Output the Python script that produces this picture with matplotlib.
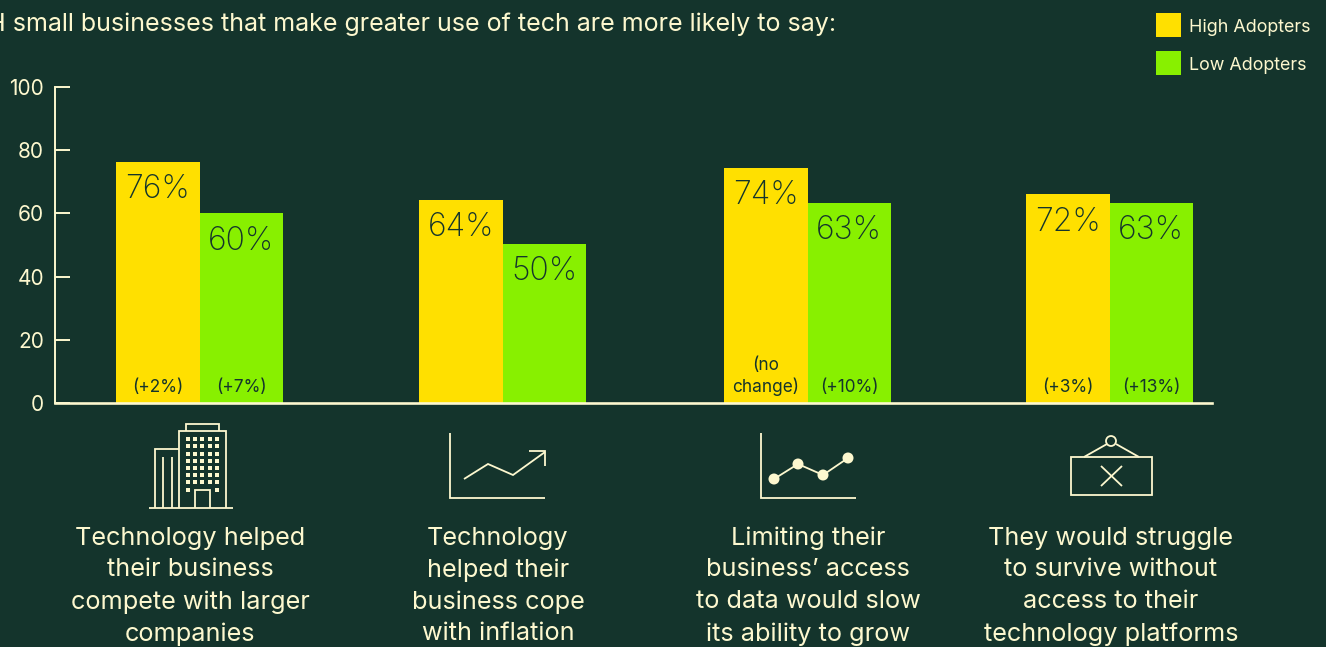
import matplotlib
matplotlib.use('Agg')
import matplotlib.pyplot as plt
from matplotlib.patches import Rectangle, Circle

plt.rcParams['font.family'] = ['Inter', 'DejaVu Sans']

BG = '#14342C'
CREAM = '#FDF8CF'
YELLOW = '#FFE000'
GREEN = '#88F000'

# bar heights as drawn in the source (the 72% bar is drawn shorter than its label)
high_values = [76.2, 64.2, 74.4, 66]
low_values = [60, 50.3, 63.3, 63.3]
high_labels = ['76%', '64%', '74%', '72%']
low_labels = ['60%', '50%', '63%', '63%']
high_changes = ['(+2%)', '', '(no\nchange)', '(+3%)']
low_changes = ['(+7%)', '', '(+10%)', '(+13%)']
y_ticks = [0, 20, 40, 60, 80, 100]
categories = [
    'Technology helped\ntheir business\ncompete with larger\ncompanies',
    'Technology\nhelped their\nbusiness cope\nwith inflation',
    'Limiting their\nbusiness\u2019 access\nto data would slow\nits ability to grow',
    'They would struggle\nto survive without\naccess to their\ntechnology platforms',
]
title = 'H small businesses that make greater use of tech are more likely to say:'

W, H = 1326, 647
fig = plt.figure(figsize=(W / 100, H / 100), dpi=100, facecolor=BG)

# main chart, axes box in pixels: x 55-1212, y 87-403, x axis runs in pixels
ax = fig.add_axes([55 / W, 1 - 403 / H, (1212 - 55) / W, (403 - 87) / H], facecolor='none')
group_x = [199.5, 502.5, 807.5, 1109.5]
bar_w = 83.5
ax.bar([g - bar_w / 2 for g in group_x], high_values, bar_w, color=YELLOW, zorder=2)
ax.bar([g + bar_w / 2 for g in group_x], low_values, bar_w, color=GREEN, zorder=2)
ax.set_xlim(55, 1212)
ax.set_ylim(0, 100)

for s in ['top', 'right']:
    ax.spines[s].set_visible(False)
ax.spines['left'].set_color(CREAM)
ax.spines['left'].set_linewidth(1.4)
ax.spines['bottom'].set_color(CREAM)
ax.spines['bottom'].set_linewidth(1.9)
ax.spines['bottom'].set_zorder(3)
ax.set_xticks([])
ax.set_yticks(y_ticks)
ax.tick_params(axis='y', direction='in', length=11, width=1.4, color=CREAM,
               labelcolor=CREAM, labelsize=15, pad=8)

# value and change labels on the bars
for i, g in enumerate(group_x):
    for off, val, lab, chg in [(-bar_w / 2, high_values[i], high_labels[i], high_changes[i]),
                               (bar_w / 2, low_values[i], low_labels[i], low_changes[i])]:
        ax.annotate(lab, (g + off, val), xytext=(0, -20), textcoords='offset points',
                    ha='center', va='center', fontsize=23, color=BG, fontweight='light', zorder=4)
        if chg:
            ax.annotate(chg, (g + off, 0), xytext=(0, 5), textcoords='offset points',
                        ha='center', va='bottom', fontsize=12.4, color=BG, zorder=4,
                        linespacing=1.25)

# overlay in pixel coordinates for header, legend, icons and captions
ov = fig.add_axes([0, 0, 1, 1], facecolor='none')
ov.set_xlim(0, W)
ov.set_ylim(H, 0)
ov.axis('off')

ov.text(-13, 24, title, fontsize=18.05, color=CREAM, va='center', ha='left')

ov.add_patch(Rectangle((1156, 13), 25, 24, color=YELLOW, lw=0))
ov.add_patch(Rectangle((1156, 51), 25, 24, color=GREEN, lw=0))
ov.text(1189, 27.5, 'High Adopters', fontsize=12.9, color=CREAM, va='center')
ov.text(1189, 65.5, 'Low Adopters', fontsize=12.9, color=CREAM, va='center')

for cx, cat in zip([190, 498, 808, 1111], categories):
    for j, line in enumerate(cat.split('\n')):
        ov.text(cx, 538 + 32 * j, line, fontsize=18.2, color=CREAM, ha='center', va='center')


def seg(xs, ys, lw=1.3):
    ov.plot(xs, ys, color=CREAM, lw=lw, solid_capstyle='butt', solid_joinstyle='miter')


# building icon
seg([149, 233], [508, 508])
seg([179, 179, 226, 226], [508, 431, 431, 508])
seg([186, 186, 219, 219], [431, 424, 424, 431])
seg([155, 155, 179], [508, 449, 449])
seg([163, 163], [457, 508])
seg([172, 172], [457, 508])
seg([195, 195, 210, 210], [508, 490, 490, 508])
for wy in [439, 446, 454, 461, 468, 475, 482]:
    for wx in [188, 195, 202, 210, 217]:
        ov.add_patch(Rectangle((wx - 2, wy - 2), 4, 4, color=CREAM, lw=0))
for wx in [188, 217]:
    ov.add_patch(Rectangle((wx - 2, 488), 4, 4, color=CREAM, lw=0))

# trend arrow icon
seg([450, 450, 545], [433, 498, 498])
seg([464, 488, 513, 545], [479, 464, 475, 452])
seg([529, 545, 545], [451, 451, 466])

# dotted line icon
seg([761, 761, 856], [433, 498, 498])
dot_x = [774, 798, 823, 848]
dot_y = [479, 464, 475, 458]
seg(dot_x, dot_y)
for dx, dy in zip(dot_x, dot_y):
    ov.add_patch(Circle((dx, dy), 5.5, color=CREAM, lw=0))

# closed sign icon
ov.add_patch(Rectangle((1071, 457), 81, 38, fill=False, ec=CREAM, lw=1.3))
ov.add_patch(Circle((1111, 441), 5, fill=False, ec=CREAM, lw=1.3))
seg([1084, 1107], [457, 444])
seg([1116, 1139], [444, 457])
seg([1101, 1122], [466, 486])
seg([1101, 1122], [486, 466])

fig.savefig('out.png', dpi=100, facecolor=BG)
